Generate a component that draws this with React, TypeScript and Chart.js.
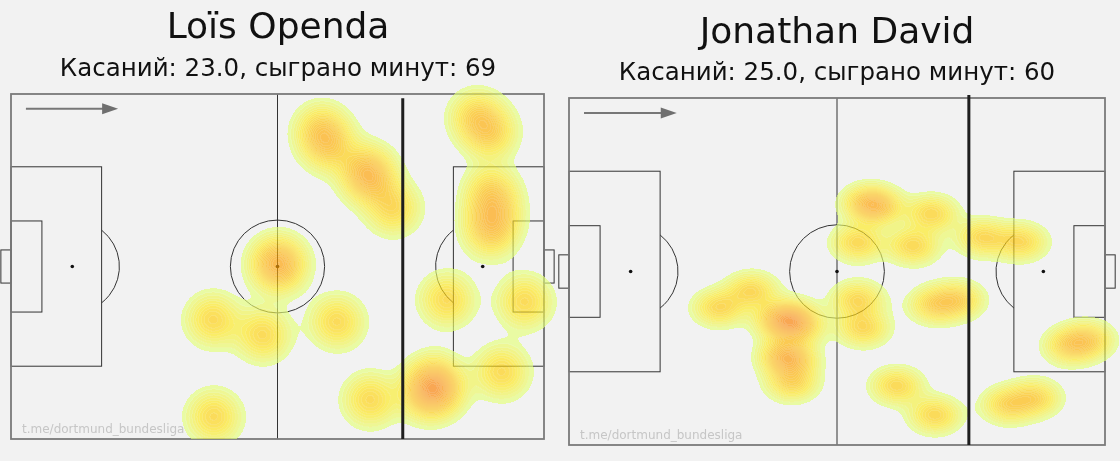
import React, { useEffect, useRef } from "react";
import { Chart, registerables } from "chart.js";

Chart.register(...registerables);

// ---------- data (Opta pitch coordinates, 0–100) ----------
const TITLES = ["Loïs Openda", "Jonathan David"];
const SUBTITLES = [
  "Касаний: 23.0, сыграно минут: 69",
  "Касаний: 25.0, сыграно минут: 60",
];
const WATERMARK = "t.me/dortmund_bundesliga";

const OPENDA_TOUCH_X = [58.3, 59.5, 66.6, 67.4, 71.7, 87.4, 89.9, 90.2, 90.6, 89.9, 50.0, 50.3, 37.9, 47.3, 61.2, 38.1, 67.4, 79.2, 80.3, 77.9, 92.1, 81.8, 96.4];
const OPENDA_TOUCH_Y = [89.6, 84.9, 78.0, 75.1, 66.9, 93.3, 88.7, 71.6, 65.2, 60.0, 50.0, 51.3, 34.5, 30.1, 33.9, 6.4, 11.3, 16.8, 14.2, 12.8, 19.4, 40.3, 39.7];

const DAVID_TOUCH_X = [55.8, 57.6, 67.7, 53.9, 64.2, 77.2, 84.3, 28.0, 34.1, 39.2, 41.6, 42.5, 40.3, 41.4, 41.6, 53.9, 54.9, 68.3, 72.6, 93.5, 96.8, 61.2, 68.3, 81.9, 86.9];
const DAVID_TOUCH_Y = [69.7, 68.6, 66.6, 58.2, 57.3, 59.7, 58.5, 39.5, 44.4, 36.0, 36.6, 34.0, 25.9, 24.2, 17.9, 41.8, 33.7, 40.3, 41.8, 28.5, 30.3, 17.0, 8.6, 11.5, 13.5];

// thick vertical reference line (x) and its top end (y)
const LINE_X = [73.5, 74.6];
const LINE_TOP = [98.8, 100.9];

// direction-of-play arrow (x from, x to, y)
const ARROW_X = [2.8, 20.1];
const ARROW_Y = [95.7, 95.7];

// Opta pitch markings
const PEN_LEN = 17.0;
const PEN_Y = [21.1, 78.9];
const SIX_LEN = 5.8;
const SIX_Y = [36.8, 63.2];
const SPOT_X = 11.5;
const GOAL_Y = [45.2, 54.8];
const GOAL_DEPTH = 1.9;
const CIRCLE_RX = 8.84;
const CIRCLE_RY = 13.46;

// Wistia colormap
const WISTIA = [
  [228, 255, 122],
  [255, 232, 26],
  [255, 189, 0],
  [255, 160, 0],
  [252, 127, 0],
];

function cmap(t: number) {
  const v = Math.max(0, Math.min(1, t)) * (WISTIA.length - 1);
  const i = Math.min(WISTIA.length - 2, Math.floor(v));
  const f = v - i;
  const a = WISTIA[i], b = WISTIA[i + 1];
  return [a[0] + (b[0] - a[0]) * f, a[1] + (b[1] - a[1]) * f, a[2] + (b[2] - a[2]) * f];
}

const BG = "#f2f2f2";

type Layout = {
  left: number;
  width: number;
  padding: { left: number; right: number; top: number; bottom: number };
  titleX: number;
  titleY: number;
  subY: number;
  bwX: number;
  bwY: number;
};

const LAYOUTS: Layout[] = [
  { left: 0, width: 560, padding: { left: 11, right: 16, top: 94, bottom: 22 }, titleX: 278, titleY: 38, subY: 76, bwX: 3.15, bwY: 4.8 },
  { left: 548, width: 572, padding: { left: 21, right: 15, top: 98, bottom: 16 }, titleX: 289, titleY: 43, subY: 80, bwX: 3.0, bwY: 3.35 },
];

function pitchPlugin() {
  return {
    id: "pitch",
    beforeDatasetsDraw(chart: any) {
      const { ctx } = chart;
      const xs = chart.scales.x, ys = chart.scales.y;
      const X = (v: number) => xs.getPixelForValue(v);
      const Y = (v: number) => ys.getPixelForValue(v);
      ctx.save();
      ctx.strokeStyle = "#333";
      ctx.lineWidth = 1;
      const rect = (xa: number, ya: number, xb: number, yb: number) => {
        ctx.strokeRect(Math.min(X(xa), X(xb)), Math.min(Y(ya), Y(yb)), Math.abs(X(xb) - X(xa)), Math.abs(Y(yb) - Y(ya)));
      };
      ctx.beginPath();
      ctx.moveTo(X(50), Y(0));
      ctx.lineTo(X(50), Y(100));
      ctx.stroke();
      rect(0, PEN_Y[0], PEN_LEN, PEN_Y[1]);
      rect(100 - PEN_LEN, PEN_Y[0], 100, PEN_Y[1]);
      rect(0, SIX_Y[0], SIX_LEN, SIX_Y[1]);
      rect(100 - SIX_LEN, SIX_Y[0], 100, SIX_Y[1]);
      rect(-GOAL_DEPTH, GOAL_Y[0], 0, GOAL_Y[1]);
      rect(100, GOAL_Y[0], 100 + GOAL_DEPTH, GOAL_Y[1]);
      const rx = Math.abs(X(CIRCLE_RX) - X(0));
      const ry = Math.abs(Y(CIRCLE_RY) - Y(0));
      ctx.beginPath();
      ctx.ellipse(X(50), Y(50), rx, ry, 0, 0, Math.PI * 2);
      ctx.stroke();
      const th = Math.acos((PEN_LEN - SPOT_X) / CIRCLE_RX);
      ctx.beginPath();
      ctx.ellipse(X(SPOT_X), Y(50), rx, ry, 0, -th, th);
      ctx.stroke();
      ctx.beginPath();
      ctx.ellipse(X(100 - SPOT_X), Y(50), rx, ry, 0, Math.PI - th, Math.PI + th);
      ctx.stroke();
      ctx.fillStyle = "#111";
      [SPOT_X, 50, 100 - SPOT_X].forEach((sx) => {
        ctx.beginPath();
        ctx.arc(X(sx), Y(50), 1.8, 0, Math.PI * 2);
        ctx.fill();
      });
      ctx.strokeStyle = "#7a7a7a";
      ctx.lineWidth = 1.8;
      rect(0, 0, 100, 100);
      ctx.restore();
    },
  };
}

function kdePlugin(bwX: number, bwY: number) {
  return {
    id: "kde",
    afterDatasetsDraw(chart: any) {
      const { ctx, chartArea: ca } = chart;
      const xs = chart.scales.x, ys = chart.scales.y;
      const data = chart.data.datasets[0].data as { x: number; y: number }[];
      const pts = data.map((p) => [xs.getPixelForValue(p.x), ys.getPixelForValue(p.y)]);
      const sx = Math.abs(xs.getPixelForValue(bwX) - xs.getPixelForValue(0));
      const sy = Math.abs(ys.getPixelForValue(0) - ys.getPixelForValue(bwY));
      const x0 = Math.floor(ca.left - 15), x1 = Math.ceil(ca.right + 18);
      const y0 = Math.floor(ca.top - 12), y1 = Math.ceil(ca.bottom);
      const W = x1 - x0, H = y1 - y0;
      const dens = new Float32Array(W * H);
      const ex = new Float32Array(W), ey = new Float32Array(H);
      for (const [px, py] of pts) {
        for (let i = 0; i < W; i++) {
          const d = x0 + i + 0.5 - px;
          ex[i] = Math.exp(-(d * d) / (2 * sx * sx));
        }
        for (let j = 0; j < H; j++) {
          const d = y0 + j + 0.5 - py;
          ey[j] = Math.exp(-(d * d) / (2 * sy * sy));
        }
        for (let j = 0; j < H; j++) {
          const e = ey[j];
          if (e < 1e-5) continue;
          const row = j * W;
          for (let i = 0; i < W; i++) dens[row + i] += ex[i] * e;
        }
      }
      let max = 0;
      for (let k = 0; k < dens.length; k++) if (dens[k] > max) max = dens[k];
      const N = 28;
      const t0 = 0.06;
      const lvl = new Int16Array(W * H);
      for (let k = 0; k < dens.length; k++) {
        const t = dens[k] / max;
        lvl[k] = t < t0 ? -1 : Math.min(N - 1, Math.floor(((t - t0) / (1 - t0)) * N));
      }
      const off = document.createElement("canvas");
      off.width = W;
      off.height = H;
      const octx = off.getContext("2d")!;
      const img = octx.createImageData(W, H);
      const A = 0.66;
      for (let j = 0; j < H; j++) {
        for (let i = 0; i < W; i++) {
          const k = j * W + i;
          const L = lvl[k];
          if (L < 0) continue;
          const c = cmap(Math.pow(L / (N - 1), 0.85));
          let edge = false;
          if (i + 1 < W && lvl[k + 1] !== L && lvl[k + 1] >= 0) edge = true;
          if (j + 1 < H && lvl[k + W] !== L && lvl[k + W] >= 0) edge = true;
          const o = k * 4;
          const m = edge ? 0.07 : 0;
          img.data[o] = c[0] + (255 - c[0]) * m;
          img.data[o + 1] = c[1] + (255 - c[1]) * m;
          img.data[o + 2] = c[2] + (255 - c[2]) * m;
          img.data[o + 3] = Math.round(255 * A * (edge ? 0.93 : 1));
        }
      }
      octx.putImageData(img, 0, 0);
      ctx.save();
      ctx.drawImage(off, x0, y0);
      ctx.restore();
    },
  };
}

function overlayPlugin(idx: number) {
  const lay = LAYOUTS[idx];
  return {
    id: "overlay",
    afterDraw(chart: any) {
      const { ctx, chartArea: ca } = chart;
      const xs = chart.scales.x, ys = chart.scales.y;
      const X = (v: number) => xs.getPixelForValue(v);
      const Y = (v: number) => ys.getPixelForValue(v);
      ctx.save();
      ctx.strokeStyle = "#1e1e1e";
      ctx.lineWidth = 3;
      ctx.beginPath();
      ctx.moveTo(X(LINE_X[idx]), Y(LINE_TOP[idx]));
      ctx.lineTo(X(LINE_X[idx]), Y(0));
      ctx.stroke();
      const ax0 = X(ARROW_X[0]), ax1 = X(ARROW_X[1]), ay = Y(ARROW_Y[idx]);
      ctx.strokeStyle = "#777";
      ctx.fillStyle = "#6f6f6f";
      ctx.lineWidth = 2;
      ctx.beginPath();
      ctx.moveTo(ax0, ay);
      ctx.lineTo(ax1 - 14, ay);
      ctx.stroke();
      ctx.beginPath();
      ctx.moveTo(ax1, ay);
      ctx.lineTo(ax1 - 16, ay - 5.5);
      ctx.lineTo(ax1 - 16, ay + 5.5);
      ctx.closePath();
      ctx.fill();
      ctx.fillStyle = "#c6c6c6";
      ctx.font = '12px "DejaVu Sans"';
      ctx.textAlign = "left";
      ctx.textBaseline = "alphabetic";
      ctx.fillText(WATERMARK, ca.left + 11, ca.bottom - 6);
      ctx.fillStyle = "#111";
      ctx.textAlign = "center";
      ctx.font = '36px "DejaVu Sans"';
      ctx.fillText(TITLES[idx], lay.titleX, lay.titleY);
      ctx.font = '24.5px "DejaVu Sans"';
      ctx.fillText(SUBTITLES[idx], lay.titleX, lay.subY);
      ctx.restore();
    },
  };
}

function PitchChart({ idx, xs, ys }: { idx: number; xs: number[]; ys: number[] }) {
  const ref = useRef<HTMLCanvasElement>(null);
  const lay = LAYOUTS[idx];
  useEffect(() => {
    if (!ref.current) return;
    const chart = new Chart(ref.current, {
      type: "scatter",
      data: {
        datasets: [
          {
            data: xs.map((x, i) => ({ x, y: ys[i] })),
            pointRadius: 0,
            pointHoverRadius: 0,
          },
        ],
      },
      options: {
        animation: false,
        responsive: false,
        events: [],
        layout: { padding: lay.padding },
        scales: {
          x: { type: "linear", min: 0, max: 100, display: false },
          y: { type: "linear", min: 0, max: 100, display: false },
        },
        plugins: { legend: { display: false }, tooltip: { enabled: false } },
      },
      plugins: [pitchPlugin(), kdePlugin(lay.bwX, lay.bwY), overlayPlugin(idx)],
    } as any);
    return () => chart.destroy();
  }, []);
  return (
    <canvas
      ref={ref}
      width={lay.width}
      height={461}
      style={{ position: "absolute", left: lay.left, top: 0, width: lay.width, height: 461 }}
    />
  );
}

export default function App() {
  return (
    <div style={{ position: "absolute", left: 0, top: 0, width: 1120, height: 461, background: BG, overflow: "hidden" }}>
      <PitchChart idx={0} xs={OPENDA_TOUCH_X} ys={OPENDA_TOUCH_Y} />
      <PitchChart idx={1} xs={DAVID_TOUCH_X} ys={DAVID_TOUCH_Y} />
    </div>
  );
}
